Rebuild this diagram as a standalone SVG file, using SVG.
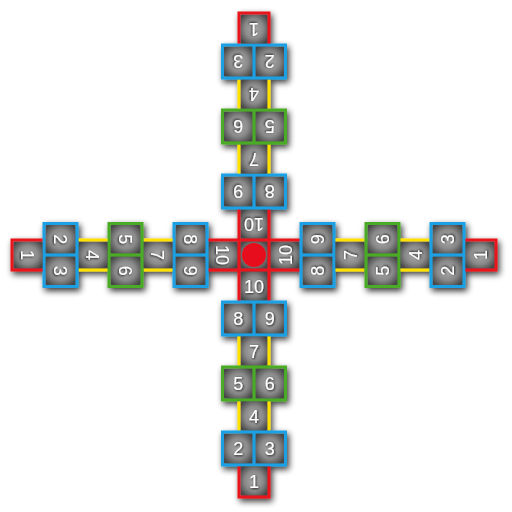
<svg xmlns="http://www.w3.org/2000/svg" xmlns:xlink="http://www.w3.org/1999/xlink" width="512" height="512" viewBox="0 0 512 512">
<defs>
<radialGradient id="cg" cx="0.5" cy="0.5" r="0.62">
<stop offset="0" stop-color="#ababab"/>
<stop offset="0.55" stop-color="#8a8a8a"/>
<stop offset="1" stop-color="#474747"/>
</radialGradient>
<filter id="sh" x="-10%" y="-10%" width="125%" height="125%">
<feGaussianBlur in="SourceAlpha" stdDeviation="3"/>
<feOffset dx="2" dy="3" result="o"/>
<feComponentTransfer><feFuncA type="linear" slope="0.8"/></feComponentTransfer>
<feMerge><feMergeNode/><feMergeNode in="SourceGraphic"/></feMerge>
</filter>
<filter id="ts" x="-30%" y="-30%" width="160%" height="160%">
<feDropShadow dx="0.8" dy="0.8" stdDeviation="0.9" flood-color="#000" flood-opacity="0.9"/>
</filter>
</defs>
<style>
.c{fill:url(#cg)}
.ln{fill:none;stroke-width:3}
.r{stroke:#e8121c}
.b{stroke:#1b9fe3}
.gr{stroke:#4aab25}
.y{stroke:#ffe100}
.t{font-family:"Liberation Sans",Arial,sans-serif;font-size:18px;fill:#fff;text-anchor:middle;filter:url(#ts)}
</style>
<rect width="512" height="512" fill="#fff"/>
<g id="hopscotch" filter="url(#sh)">
<g id="arm-bottom" transform="translate(254,255)">
<g id="b10"><rect class="c" x="-13.5" y="16.5" width="27" height="29"/><path class="ln r" d="M-15 15V47M15 15V47"/><text class="t" x="0" y="37.5">10</text></g>
<g id="b89"><rect class="c" x="-30" y="48.5" width="28.5" height="30"/><rect class="c" x="1.5" y="48.5" width="28.5" height="30"/><rect class="ln b" x="-31.5" y="47" width="63" height="33"/><path class="ln b" d="M0 47V80"/><text class="t" x="-15.75" y="70">8</text><text class="t" x="15.75" y="70">9</text></g>
<g id="b7"><rect class="c" x="-13.5" y="81.5" width="27" height="29"/><path class="ln y" d="M-15 81.5V110.5M15 81.5V110.5"/><text class="t" x="0" y="102.5">7</text></g>
<g id="b56"><rect class="c" x="-30" y="113.5" width="28.5" height="30"/><rect class="c" x="1.5" y="113.5" width="28.5" height="30"/><rect class="ln gr" x="-31.5" y="112" width="63" height="33"/><path class="ln gr" d="M0 112V145"/><text class="t" x="-15.75" y="135">5</text><text class="t" x="15.75" y="135">6</text></g>
<g id="b4"><rect class="c" x="-13.5" y="146.5" width="27" height="29"/><path class="ln y" d="M-15 146.5V175.5M15 146.5V175.5"/><text class="t" x="0" y="167.5">4</text></g>
<g id="b23"><rect class="c" x="-30" y="178.5" width="28.5" height="30"/><rect class="c" x="1.5" y="178.5" width="28.5" height="30"/><rect class="ln b" x="-31.5" y="177" width="63" height="33"/><path class="ln b" d="M0 177V210"/><text class="t" x="-15.75" y="200">2</text><text class="t" x="15.75" y="200">3</text></g>
<g id="b1"><rect class="c" x="-13.5" y="211.5" width="27" height="29"/><path class="ln r" d="M-15 211.5V242H15V211.5"/><text class="t" x="0" y="232.5">1</text></g>
</g>
<g id="arm-left" transform="translate(254,255) rotate(90)">
<g id="l10"><rect class="c" x="-13.5" y="16.5" width="27" height="29"/><path class="ln r" d="M-15 15V47M15 15V47"/><text class="t" x="0" y="37.5">10</text></g>
<g id="l89"><rect class="c" x="-30" y="48.5" width="28.5" height="30"/><rect class="c" x="1.5" y="48.5" width="28.5" height="30"/><rect class="ln b" x="-31.5" y="47" width="63" height="33"/><path class="ln b" d="M0 47V80"/><text class="t" x="-15.75" y="70">8</text><text class="t" x="15.75" y="70">9</text></g>
<g id="l7"><rect class="c" x="-13.5" y="81.5" width="27" height="29"/><path class="ln y" d="M-15 81.5V110.5M15 81.5V110.5"/><text class="t" x="0" y="102.5">7</text></g>
<g id="l56"><rect class="c" x="-30" y="113.5" width="28.5" height="30"/><rect class="c" x="1.5" y="113.5" width="28.5" height="30"/><rect class="ln gr" x="-31.5" y="112" width="63" height="33"/><path class="ln gr" d="M0 112V145"/><text class="t" x="-15.75" y="135">5</text><text class="t" x="15.75" y="135">6</text></g>
<g id="l4"><rect class="c" x="-13.5" y="146.5" width="27" height="29"/><path class="ln y" d="M-15 146.5V175.5M15 146.5V175.5"/><text class="t" x="0" y="167.5">4</text></g>
<g id="l23"><rect class="c" x="-30" y="178.5" width="28.5" height="30"/><rect class="c" x="1.5" y="178.5" width="28.5" height="30"/><rect class="ln b" x="-31.5" y="177" width="63" height="33"/><path class="ln b" d="M0 177V210"/><text class="t" x="-15.75" y="200">2</text><text class="t" x="15.75" y="200">3</text></g>
<g id="l1"><rect class="c" x="-13.5" y="211.5" width="27" height="29"/><path class="ln r" d="M-15 211.5V242H15V211.5"/><text class="t" x="0" y="232.5">1</text></g>
</g>
<g id="arm-top" transform="translate(254,255) rotate(180)">
<g id="t10"><rect class="c" x="-13.5" y="16.5" width="27" height="29"/><path class="ln r" d="M-15 15V47M15 15V47"/><text class="t" x="0" y="37.5">10</text></g>
<g id="t89"><rect class="c" x="-30" y="48.5" width="28.5" height="30"/><rect class="c" x="1.5" y="48.5" width="28.5" height="30"/><rect class="ln b" x="-31.5" y="47" width="63" height="33"/><path class="ln b" d="M0 47V80"/><text class="t" x="-15.75" y="70">8</text><text class="t" x="15.75" y="70">9</text></g>
<g id="t7"><rect class="c" x="-13.5" y="81.5" width="27" height="29"/><path class="ln y" d="M-15 81.5V110.5M15 81.5V110.5"/><text class="t" x="0" y="102.5">7</text></g>
<g id="t56"><rect class="c" x="-30" y="113.5" width="28.5" height="30"/><rect class="c" x="1.5" y="113.5" width="28.5" height="30"/><rect class="ln gr" x="-31.5" y="112" width="63" height="33"/><path class="ln gr" d="M0 112V145"/><text class="t" x="-15.75" y="135">5</text><text class="t" x="15.75" y="135">6</text></g>
<g id="t4"><rect class="c" x="-13.5" y="146.5" width="27" height="29"/><path class="ln y" d="M-15 146.5V175.5M15 146.5V175.5"/><text class="t" x="0" y="167.5">4</text></g>
<g id="t23"><rect class="c" x="-30" y="178.5" width="28.5" height="30"/><rect class="c" x="1.5" y="178.5" width="28.5" height="30"/><rect class="ln b" x="-31.5" y="177" width="63" height="33"/><path class="ln b" d="M0 177V210"/><text class="t" x="-15.75" y="200">2</text><text class="t" x="15.75" y="200">3</text></g>
<g id="t1"><rect class="c" x="-13.5" y="211.5" width="27" height="29"/><path class="ln r" d="M-15 211.5V242H15V211.5"/><text class="t" x="0" y="232.5">1</text></g>
</g>
<g id="arm-right" transform="translate(254,255) rotate(270)">
<g id="r10"><rect class="c" x="-13.5" y="16.5" width="27" height="29"/><path class="ln r" d="M-15 15V47M15 15V47"/><text class="t" x="0" y="37.5">10</text></g>
<g id="r89"><rect class="c" x="-30" y="48.5" width="28.5" height="30"/><rect class="c" x="1.5" y="48.5" width="28.5" height="30"/><rect class="ln b" x="-31.5" y="47" width="63" height="33"/><path class="ln b" d="M0 47V80"/><text class="t" x="-15.75" y="70">8</text><text class="t" x="15.75" y="70">9</text></g>
<g id="r7"><rect class="c" x="-13.5" y="81.5" width="27" height="29"/><path class="ln y" d="M-15 81.5V110.5M15 81.5V110.5"/><text class="t" x="0" y="102.5">7</text></g>
<g id="r56"><rect class="c" x="-30" y="113.5" width="28.5" height="30"/><rect class="c" x="1.5" y="113.5" width="28.5" height="30"/><rect class="ln gr" x="-31.5" y="112" width="63" height="33"/><path class="ln gr" d="M0 112V145"/><text class="t" x="-15.75" y="135">5</text><text class="t" x="15.75" y="135">6</text></g>
<g id="r4"><rect class="c" x="-13.5" y="146.5" width="27" height="29"/><path class="ln y" d="M-15 146.5V175.5M15 146.5V175.5"/><text class="t" x="0" y="167.5">4</text></g>
<g id="r23"><rect class="c" x="-30" y="178.5" width="28.5" height="30"/><rect class="c" x="1.5" y="178.5" width="28.5" height="30"/><rect class="ln b" x="-31.5" y="177" width="63" height="33"/><path class="ln b" d="M0 177V210"/><text class="t" x="-15.75" y="200">2</text><text class="t" x="15.75" y="200">3</text></g>
<g id="r1"><rect class="c" x="-13.5" y="211.5" width="27" height="29"/><path class="ln r" d="M-15 211.5V242H15V211.5"/><text class="t" x="0" y="232.5">1</text></g>
</g>
<g id="center" transform="translate(254,255)">
<rect class="c" x="-13.5" y="-13.5" width="27" height="27"/>
<rect class="ln r" x="-15" y="-15" width="30" height="30"/>
<circle cx="0" cy="0" r="12" fill="#e8101a"/>
</g>
</g>
<g id="connectors"/>
</svg>
